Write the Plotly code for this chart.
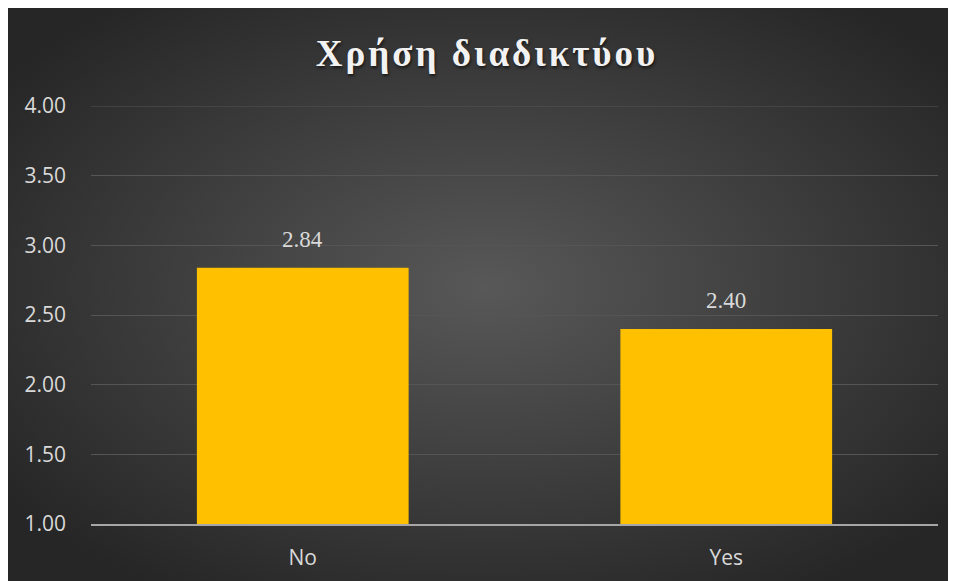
import base64
import plotly.graph_objects as go

categories = ["No", "Yes"]
values = [2.84, 2.40]
tick_vals = [1.0, 1.5, 2.0, 2.5, 3.0, 3.5, 4.0]
title_text = "Χρήση διαδικτύου"

W, H = 956, 581
ml, mr, mt, mb = 83, 26, 98, 65
pw, ph = W - ml - mr, H - mt - mb

svg = f'''<svg xmlns="http://www.w3.org/2000/svg" width="956" height="581" viewBox="0 0 956 581" preserveAspectRatio="none">
<defs><radialGradient id="g" cx="50%" cy="48%" r="62%">
<stop offset="0%" stop-color="#585858"/><stop offset="100%" stop-color="#262626"/>
</radialGradient></defs>
<rect width="956" height="581" fill="url(#g)"/></svg>'''
src = "data:image/svg+xml;base64," + base64.b64encode(svg.encode()).decode()

x0 = -ml / pw
x1 = (W - ml) / pw
y0 = (H - mb) / ph
y1 = -mb / ph

fig = go.Figure(go.Bar(
    x=categories, y=values,
    marker=dict(color="#FFC000", line=dict(width=0)),
    width=0.5,
    cliponaxis=False,
))

for c, v in zip(categories, values):
    fig.add_annotation(x=c, y=v, text=f"{v:.2f}", showarrow=False,
                       yanchor="bottom", yshift=14,
                       font=dict(family="Times New Roman", size=23, color="#d9d9d9"))

# top gridline at the last tick (plotly hides gridlines on the range edge)
fig.add_hline(y=tick_vals[-1], line=dict(color="#555555", width=1), layer="below")

fig.update_layout(
    width=W, height=H,
    margin=dict(l=ml, r=mr, t=mt, b=mb),
    paper_bgcolor="#2e2e2e",
    plot_bgcolor="rgba(0,0,0,0)",
    showlegend=False,
    images=[dict(source=src, xref="paper", yref="paper", x=x0, y=y0,
                 sizex=x1 - x0, sizey=y0 - y1, xanchor="left", yanchor="top",
                 sizing="stretch", layer="below")],
    title=dict(text="<b>" + title_text + "</b>", x=(479 - ml) / pw, xref="paper",
               xanchor="center", y=1 - 45 / H, yanchor="middle",
               font=dict(family="Liberation Serif, serif", size=37, color="#f2f2f2",
                         shadow="1px 2px 3px rgba(0,0,0,0.6)")),
    yaxis=dict(range=[1, 4], tickvals=tick_vals, tickformat=".2f",
               showgrid=True, gridcolor="#555555", gridwidth=1,
               zeroline=False, showline=False, ticks="",
               ticklabelstandoff=24,
               tickfont=dict(family="Open Sans", size=21, color="#d9d9d9")),
    xaxis=dict(showline=True, linecolor="#a6a6a6", linewidth=2,
               ticks="", showgrid=False, ticklabelstandoff=14,
               tickfont=dict(family="Open Sans", size=21, color="#d9d9d9")),
    bargap=0.5,
)

post = """
document.querySelectorAll('.gtitle').forEach(function(e){e.style.letterSpacing='3px';});
"""
fig.write_html("out.html", post_script=post)
